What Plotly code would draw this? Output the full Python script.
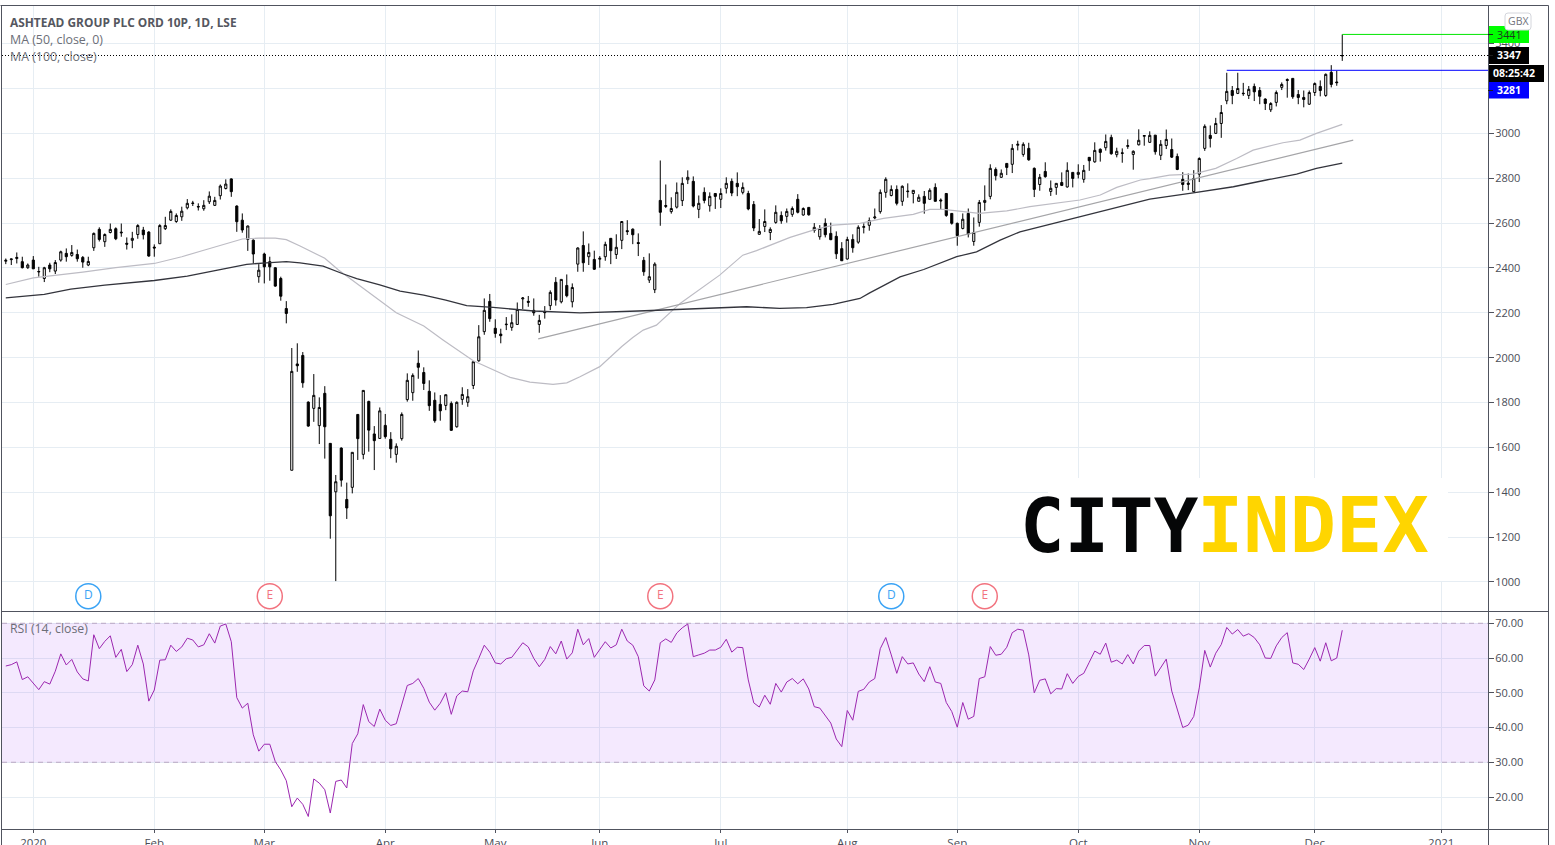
import plotly.graph_objects as go

W, H = 1555, 845

month_idx = [5, 27, 47, 69, 89, 108, 130, 153, 173, 195, 217, 238, 261]
month_labels = ["2020", "Feb", "Mar", "Apr", "May", "Jun", "Jul", "Aug", "Sep", "Oct", "Nov", "Dec", "2021"]

opens = [
2430,2437,2442,2428,2401,2435,2382,2353,2413,2386,
2435,2465,2456,2460,2447,2413,2490,2572,2517,2558,
2575,2556,2510,2523,2549,2569,2560,2493,2508,2575,
2613,2607,2628,2668,2687,2674,2664,2695,2679,2722,
2754,2797,2676,2613,2527,2524,2361,2462,2428,2401,
2353,2219,1498,1972,2010,1802,1774,1697,1841,1618,
1402,1597,1368,1422,1747,1569,1805,1660,1640,1698,
1636,1569,1639,1813,1844,1975,1934,1850,1810,1792,
1787,1796,1692,1814,1801,1876,1986,2116,2251,2131,
2105,2147,2135,2148,2262,2251,2211,2148,2205,2232,
2336,2249,2322,2249,2417,2500,2450,2438,2439,2450,
2532,2460,2523,2566,2573,2513,2434,2346,2303,2701,
2674,2651,2671,2700,2793,2786,2661,2737,2677,2732,
2706,2755,2786,2777,2737,2732,2683,2550,2585,2558,
2603,2634,2630,2639,2706,2636,2670,2567,2539,2599,
2554,2541,2486,2440,2527,2515,2581,2590,2623,2651,
2737,2723,2750,2697,2740,2732,2697,2719,2706,2759,
2703,2732,2643,2599,2576,2643,2518,2603,2692,2719,
2839,2804,2866,2862,2947,2906,2933,2844,2772,2830,
2741,2759,2781,2761,2826,2817,2795,2893,2873,2929,
2936,2982,2905,2913,2942,2906,2949,2987,2960,2992,
2902,2946,2928,2897,2795,2778,2740,2818,2933,2991,
3000,3044,3145,3191,3178,3179,3169,3209,3191,3153,
3105,3138,3205,3240,3245,3173,3160,3130,3182,3209,
3169,3272,3229,3345]

highs = [
2442,2441,2469,2450,2420,2453,2405,2405,2423,2435,
2477,2487,2502,2482,2453,2450,2558,2581,2554,2598,
2581,2598,2536,2561,2595,2583,2564,2505,2595,2628,
2661,2643,2673,2707,2699,2688,2702,2741,2717,2772,
2795,2799,2679,2643,2589,2527,2417,2468,2450,2402,
2361,2252,2043,2064,2025,1805,1927,1823,1873,1618,
1477,1600,1443,1578,1747,1854,1808,1695,1778,1749,
1668,1618,1756,1930,1930,2032,1957,1899,1845,1833,
1835,1805,1805,1868,1860,1982,2145,2264,2284,2171,
2129,2181,2193,2246,2270,2275,2264,2191,2230,2300,
2359,2349,2371,2331,2492,2563,2509,2477,2453,2517,
2532,2550,2607,2613,2576,2554,2449,2465,2425,2879,
2772,2715,2781,2804,2835,2808,2723,2759,2737,2732,
2755,2804,2799,2826,2781,2744,2698,2618,2661,2581,
2679,2652,2665,2674,2729,2670,2670,2600,2591,2621,
2602,2563,2515,2539,2550,2590,2599,2625,2665,2750,
2804,2768,2768,2768,2777,2746,2728,2743,2755,2777,
2710,2732,2643,2602,2643,2665,2625,2703,2768,2862,
2848,2839,2866,2952,2967,2960,2958,2848,2819,2871,
2790,2777,2826,2871,2826,2862,2859,2893,2960,2933,
2995,2994,2936,2933,2973,2924,3018,2992,3009,2992,
2970,3017,2977,2910,2827,2821,2836,2893,3040,3035,
3069,3126,3270,3211,3270,3225,3211,3222,3206,3156,
3139,3191,3227,3245,3245,3193,3191,3191,3227,3236,
3267,3304,3279,3441]

lows = [
2417,2413,2420,2398,2396,2396,2361,2337,2381,2373,
2428,2428,2450,2428,2401,2408,2476,2518,2494,2554,
2524,2539,2482,2488,2530,2527,2450,2450,2508,2569,
2610,2601,2610,2661,2676,2656,2655,2685,2676,2705,
2750,2717,2561,2557,2476,2420,2334,2331,2343,2316,
2254,2153,1498,1937,1866,1692,1714,1615,1550,1193,
1004,1425,1281,1395,1544,1547,1581,1499,1639,1639,
1552,1532,1630,1804,1808,1906,1856,1763,1710,1719,
1766,1674,1688,1790,1781,1860,1982,2102,2160,2089,
2064,2123,2120,2148,2217,2227,2187,2111,2174,2212,
2232,2242,2269,2224,2383,2383,2413,2391,2401,2432,
2417,2440,2484,2547,2506,2453,2365,2333,2288,2588,
2667,2642,2665,2676,2774,2670,2622,2688,2651,2663,
2667,2732,2720,2720,2728,2657,2564,2548,2560,2524,
2597,2597,2602,2628,2643,2633,2633,2557,2526,2536,
2524,2440,2432,2437,2468,2508,2554,2566,2617,2642,
2713,2719,2679,2677,2713,2688,2697,2642,2706,2697,
2661,2628,2593,2499,2572,2536,2499,2584,2655,2706,
2790,2802,2814,2823,2924,2896,2878,2716,2744,2802,
2721,2726,2765,2758,2759,2799,2780,2833,2869,2874,
2923,2905,2893,2869,2931,2838,2946,2945,2957,2905,
2881,2930,2890,2836,2744,2747,2737,2783,2922,2937,
2997,2980,3130,3130,3175,3167,3153,3144,3130,3104,
3095,3120,3193,3159,3154,3130,3116,3127,3167,3165,
3163,3205,3212,3323]

closes = [
2434,2440,2447,2401,2413,2396,2384,2401,2396,2424,
2472,2450,2469,2441,2426,2429,2554,2527,2549,2572,
2530,2559,2506,2532,2589,2548,2453,2489,2589,2589,
2652,2634,2653,2688,2689,2672,2679,2720,2701,2765,
2774,2740,2606,2569,2587,2462,2390,2405,2405,2319,
2274,2197,1939,1964,1888,1695,1832,1778,1692,1295,
1447,1454,1330,1578,1639,1854,1677,1630,1763,1648,
1594,1605,1747,1899,1921,1957,1885,1786,1719,1763,
1835,1676,1801,1836,1826,1982,2093,2211,2174,2108,
2098,2149,2156,2215,2266,2247,2200,2166,2201,2291,
2257,2349,2276,2313,2489,2423,2469,2394,2443,2505,
2477,2492,2607,2562,2548,2509,2383,2361,2417,2648,
2678,2665,2737,2777,2804,2676,2688,2701,2719,2719,
2732,2777,2734,2762,2759,2663,2578,2563,2607,2572,
2648,2610,2652,2665,2648,2665,2637,2581,2576,2548,
2526,2463,2432,2527,2490,2581,2584,2611,2627,2737,
2795,2750,2688,2764,2742,2746,2715,2688,2746,2697,
2699,2634,2599,2544,2617,2551,2558,2692,2701,2844,
2811,2822,2848,2933,2951,2951,2882,2750,2804,2807,
2755,2777,2768,2835,2799,2826,2835,2878,2924,2915,
2964,2909,2920,2911,2945,2920,2969,2990,2991,2918,
2951,2973,2894,2839,2772,2773,2799,2888,3031,2977,
3044,3093,3187,3169,3200,3177,3196,3185,3165,3133,
3133,3182,3218,3236,3163,3160,3151,3182,3222,3191,
3263,3218,3226,3347]

rsi = [
57.7,58.1,58.9,53.8,54.6,52.7,50.9,53.2,52.5,56.2,
61.2,58.0,59.6,56.0,54.0,53.4,66.7,62.7,64.8,66.4,
60.2,62.5,56.1,58.1,63.7,58.3,47.6,50.8,59.4,59.5,
63.7,61.9,63.2,65.7,65.2,63.2,63.8,67.0,64.3,69.2,
69.8,64.7,48.6,45.6,47.0,37.9,33.2,35.2,35.2,30.2,
27.8,24.7,17.2,19.7,17.9,14.4,25.2,24.0,22.1,15.4,
24.5,24.9,22.6,35.4,38.2,46.6,41.7,40.3,45.3,42.1,
40.6,41.1,46.5,52.1,52.7,54.1,51.3,47.3,45.0,47.0,
50.0,43.8,49.1,50.5,50.3,56.3,59.9,63.7,61.7,58.6,
58.3,59.8,60.2,62.3,64.4,63.2,59.9,57.5,59.6,63.3,
61.2,64.9,59.7,61.5,68.3,63.8,65.6,60.2,62.3,64.7,
62.9,63.8,68.3,64.9,63.7,60.4,52.0,50.5,53.7,64.4,
65.5,64.5,67.2,68.7,69.8,60.4,60.9,61.4,62.3,62.3,
63.1,65.4,61.7,63.1,63.0,53.7,47.1,45.9,49.3,46.7,
52.7,50.2,53.1,54.1,52.6,54.0,51.1,46.0,45.6,43.6,
41.3,36.7,34.5,44.9,42.1,50.4,51.0,53.1,54.1,62.7,
65.9,60.9,55.6,60.4,58.3,58.6,55.4,53.2,57.5,53.1,
52.7,47.2,44.6,40.1,47.2,42.4,43.2,54.1,54.6,63.3,
60.8,61.1,63.1,67.3,68.3,68.0,60.9,50.0,53.6,54.0,
49.7,51.2,51.1,55.5,52.7,54.7,55.6,58.8,62.0,61.1,
64.3,58.8,59.4,58.3,61.0,58.3,62.0,63.6,63.6,54.8,
57.4,59.7,50.5,45.4,40.0,40.7,43.2,51.4,62.2,57.4,
61.4,63.9,68.8,66.9,68.2,66.3,67.0,65.9,63.8,60.0,
59.9,63.5,65.9,67.3,58.6,58.2,56.7,59.7,63.0,59.1,
64.4,59.2,60.0,68.0]

ma50_idx = [0,5,14,20,27,32,36,40,43,46,49,51,53.5,58,60.5,64,67.4,71,76,79.5,85,88.6,91.7,95.3,99.5,102,104.4,
            108,112,114,115.9,118.3,122.6,129.8,134,136.5,142.6,147.4,150.5,155.3,159.6,165,168,170.5,173,177,
            182,186.2,195.3,199,202,206.3,208,211.6,215.9,220,223.8,226.8,232.2,235.3,238.3,243]
ma50_val = [2326,2356,2381,2401,2420,2450,2479,2509,2529,2533,2533,2526,2498,2443,2391,2327,2264,2200,2141,2079,1986,1945,1912,1891,1881,1888,1915,
            1960,2050,2090,2123,2145,2242,2368,2457,2477,2536,2573,2591,2599,2621,2639,2661,2661,2654,2643,
            2654,2673,2703,2725,2759,2792,2798,2814,2818,2844,2888,2925,2958,2970,3000,3040]
ma100_idx = [0,7,11.8,18,27,33,38.5,43.8,47.4,51,53.5,57.7,61.4,63.8,68,71.7,76,80,83.8,88.6,96,104.4,
             115,121.3,129.2,134.7,140.7,145.6,150.4,155.3,157,162.6,166.9,172.9,176.5,180.8,184.4,190.5,195.3,203.2,
             208,215.9,223.2,229.2,234.7,238.3,243]
ma100_val = [2267,2282,2306,2323,2344,2364,2390,2416,2423,2428,2423,2408,2373,2352,2324,2297,2279,2257,2232,2224,2208,2200,
             2208,2215,2224,2227,2220,2223,2238,2264,2288,2360,2393,2450,2472,2524,2561,2599,2628,2680,
             2707,2735,2762,2792,2818,2844,2867]

trend_idx = [96.8, 245]
trend_val = [2084, 2970]

last_close = 3347
high_level = 3441
high_from = 243
low_level = 3281
low_from = 222

event_idx = [15, 48, 119, 161, 178]
event_text = ["D", "E", "E", "D", "E"]
event_color = ["#3aa3f5", "#f2737f", "#f2737f", "#3aa3f5", "#f2737f"]
event_price = 937

price_ticks = list(range(1000, 3600, 200))
rsi_ticks = [20, 30, 40, 50, 60, 70]
rsi_labels = ["20.00", "30.00", "40.00", "50.00", "60.00", "70.00"]

FONT = "Open Sans"
GRID = "#e6edf3"
FRAME = "#50535e"
TXT = "#4a4d57"
X_LO, X_HI = -0.69, 269.5

def px(x):
    return x / W

def py(y):
    return 1 - y / H

x = list(range(len(closes)))
fig = go.Figure()

fig.add_trace(go.Scatter(x=ma50_idx, y=ma50_val, mode="lines", line=dict(color="#bdbcc4", width=1.2), hoverinfo="skip", xaxis="x", yaxis="y"))
fig.add_trace(go.Scatter(x=trend_idx, y=trend_val, mode="lines", line=dict(color="#a5a5a8", width=1.2), hoverinfo="skip", xaxis="x", yaxis="y"))
fig.add_trace(go.Scatter(x=ma100_idx, y=ma100_val, mode="lines", line=dict(color="#33343c", width=1.3), hoverinfo="skip", xaxis="x", yaxis="y"))
fig.add_trace(go.Candlestick(
    x=x, open=opens, high=highs, low=lows, close=closes, xaxis="x", yaxis="y",
    whiskerwidth=0,
    increasing=dict(line=dict(color="#000000", width=1), fillcolor="#ffffff"),
    decreasing=dict(line=dict(color="#000000", width=1), fillcolor="#000000"),
    hoverinfo="skip",
))
fig.add_trace(go.Scatter(
    x=event_idx, y=[event_price] * len(event_idx), mode="markers+text", text=event_text,
    textposition="middle center", textfont=dict(family=FONT, size=12, color=event_color),
    marker=dict(size=25, color="#ffffff", line=dict(color=event_color, width=1.5)),
    hoverinfo="skip", xaxis="x", yaxis="y", cliponaxis=False,
))
fig.add_trace(go.Scatter(x=x, y=rsi, mode="lines", line=dict(color="#9c27b0", width=1), hoverinfo="skip", xaxis="x2", yaxis="y2"))

shapes = [
    # RSI band and its borders
    dict(type="rect", xref="x2", x0=X_LO, x1=X_HI, yref="y2", y0=30, y1=70, fillcolor="rgba(160,60,250,0.115)", line_width=0, layer="between"),
    dict(type="line", xref="x2", x0=X_LO, x1=X_HI, yref="y2", y0=70, y1=70, line=dict(color="#b9a7c4", width=1, dash="5px,4px"), layer="between"),
    dict(type="line", xref="x2", x0=X_LO, x1=X_HI, yref="y2", y0=30, y1=30, line=dict(color="#b9a7c4", width=1, dash="5px,4px"), layer="between"),
    # logo backing
    dict(type="rect", xref="paper", yref="paper", x0=px(1048), x1=px(1448), y0=py(581), y1=py(478), fillcolor="#ffffff", line_width=0, layer="above"),
    dict(type="rect", xref="paper", yref="paper", x0=px(1028), x1=px(1048), y0=py(581), y1=py(497), fillcolor="#ffffff", line_width=0, layer="above"),
    # price level lines
    dict(type="line", xref="x", yref="y", x0=X_LO, x1=X_HI, y0=last_close, y1=last_close, line=dict(color="#000000", width=1, dash="1px,2px"), layer="above"),
    dict(type="line", xref="x", yref="y", x0=high_from, x1=X_HI, y0=high_level, y1=high_level, line=dict(color="#00e600", width=1), layer="above"),
    dict(type="line", xref="x", yref="y", x0=low_from, x1=X_HI, y0=low_level, y1=low_level, line=dict(color="#0000ff", width=1), layer="above"),
    # price labels
    dict(type="rect", xref="paper", yref="paper", x0=px(1488), x1=px(1529), y0=py(43), y1=py(26), fillcolor="#00ff00", line_width=0, layer="above"),
    dict(type="rect", xref="paper", yref="paper", x0=px(1488), x1=px(1529), y0=py(64), y1=py(47), fillcolor="#000000", line_width=0, layer="above"),
    dict(type="rect", xref="paper", yref="paper", x0=px(1489), x1=px(1544), y0=py(82), y1=py(65), fillcolor="#000000", line_width=0, layer="above"),
    dict(type="rect", xref="paper", yref="paper", x0=px(1488), x1=px(1529), y0=py(98.5), y1=py(82), fillcolor="#0000ff", line_width=0, layer="above"),
]
# GBX rounded box
bx0, bx1, by0, by1, r = 1505, 1531, 13, 30, 3
shapes.append(dict(
    type="path", xref="paper", yref="paper",
    path=(f"M {px(bx0+r)} {py(by0)} L {px(bx1-r)} {py(by0)} Q {px(bx1)} {py(by0)} {px(bx1)} {py(by0+r)} "
          f"L {px(bx1)} {py(by1-r)} Q {px(bx1)} {py(by1)} {px(bx1-r)} {py(by1)} L {px(bx0+r)} {py(by1)} "
          f"Q {px(bx0)} {py(by1)} {px(bx0)} {py(by1-r)} L {px(bx0)} {py(by0+r)} Q {px(bx0)} {py(by0)} {px(bx0+r)} {py(by0)} Z"),
    line=dict(color="#d4d6dc", width=1), fillcolor="#ffffff", layer="above"))
# frame lines
for (x0, y0, x1, y1) in [(0.5, 5.5, 1548.5, 5.5), (1.5, 5.5, 1.5, 845), (1488.5, 5.5, 1488.5, 845),
                         (1548.5, 5.5, 1548.5, 845), (1, 611.5, 1548.5, 611.5), (1, 829.5, 1548.5, 829.5)]:
    shapes.append(dict(type="line", xref="paper", yref="paper", x0=px(x0), x1=px(x1), y0=py(y0), y1=py(y1),
                       line=dict(color=FRAME, width=1), layer="above"))
# small marks on the level labels
for yy in (34.5, 55.5, 90.5):
    shapes.append(dict(type="line", xref="paper", yref="paper", x0=px(1488), x1=px(1493), y0=py(yy), y1=py(yy),
                       line=dict(color="#1c1c1c", width=1), layer="above"))

def note(text, xp, yp, size=12, color=TXT, bold=False, anchor="left", family=FONT):
    return dict(text=f"<b>{text}</b>" if bold else text, x=px(xp), y=py(yp), xref="paper", yref="paper",
                xanchor=anchor, yanchor="middle", showarrow=False, align="left",
                font=dict(family=family, size=size, color=color))

annotations = [
    note("ASHTEAD GROUP PLC ORD 10P, 1D, LSE", 7.5, 22, size=11.9, color="#555760", bold=True),
    note("MA (50, close, 0)", 7.5, 39.5, size=12.4, color="#6c6e77"),
    note("MA (100, close)", 7.5, 56.5, size=12.4, color="#6c6e77"),
    note("RSI (14, close)", 7.5, 628.5, size=12.3, color="#6c6e77"),
    note("GBX", 1518, 21.5, size=10.5, color="#73757e", anchor="center"),
    note(str(high_level), 1495, 34.5, size=10.8, color="#1f3a1f"),
    note(str(last_close), 1495, 55.5, size=10.5, color="#ffffff", bold=True),
    note("08:25:42", 1491, 73.5, size=10.5, color="#ffffff", bold=True),
    note(str(low_level), 1495, 90.5, size=10.5, color="#ffffff", bold=True),
    note("<b>CITY</b>", 1109.5, 525.5, size=74, color="#050607", anchor="center", family="DejaVu Sans Mono"),
    note("<b>INDEX</b>", 1312.5, 525.5, size=77, color="#ffd500", anchor="center", family="DejaVu Sans Mono"),
]

axis_common = dict(range=[X_LO, X_HI], tickmode="array", tickvals=month_idx, showgrid=True, gridcolor=GRID,
                   gridwidth=1, zeroline=False, showline=False, fixedrange=True, automargin=False)
fig.update_layout(
    width=W, height=H, margin=dict(l=0, r=0, t=0, b=0), autosize=False, showlegend=False,
    paper_bgcolor="#ffffff", plot_bgcolor="#ffffff", boxgap=0.45,
    font=dict(family=FONT, size=11, color=TXT),
    xaxis=dict(domain=[px(2), px(1488)], anchor="y", rangeslider=dict(visible=False), showticklabels=False, ticks="", **axis_common),
    xaxis2=dict(domain=[px(2), px(1488)], anchor="y2", ticktext=month_labels, ticks="outside", ticklen=3, tickcolor=FRAME,
                tickfont=dict(family=FONT, size=11.5, color=TXT), ticklabelstandoff=0, **axis_common),
    yaxis=dict(domain=[py(611), py(6)], anchor="x", side="right", range=[870.7, 3567.7], tickmode="array", tickvals=price_ticks,
               ticks="outside", ticklen=5, tickcolor=FRAME, showgrid=True, gridcolor=GRID, zeroline=False, showline=False,
               tickfont=dict(family=FONT, size=11, color=TXT), fixedrange=True, ticklabelstandoff=-1, automargin=False),
    yaxis2=dict(domain=[py(829), py(612)], anchor="x2", side="right", range=[10.8, 73.25], tickmode="array", tickvals=rsi_ticks,
                ticktext=rsi_labels, ticks="outside", ticklen=5, tickcolor=FRAME, showgrid=True, gridcolor=GRID, zeroline=False,
                showline=False, tickfont=dict(family=FONT, size=11, color=TXT), fixedrange=True, ticklabelstandoff=-1, automargin=False),
    shapes=shapes, annotations=annotations,
)

fig.write_html("out.html", config=dict(displayModeBar=False),
               post_script="document.body.style.margin='0';document.body.style.overflow='hidden';")
